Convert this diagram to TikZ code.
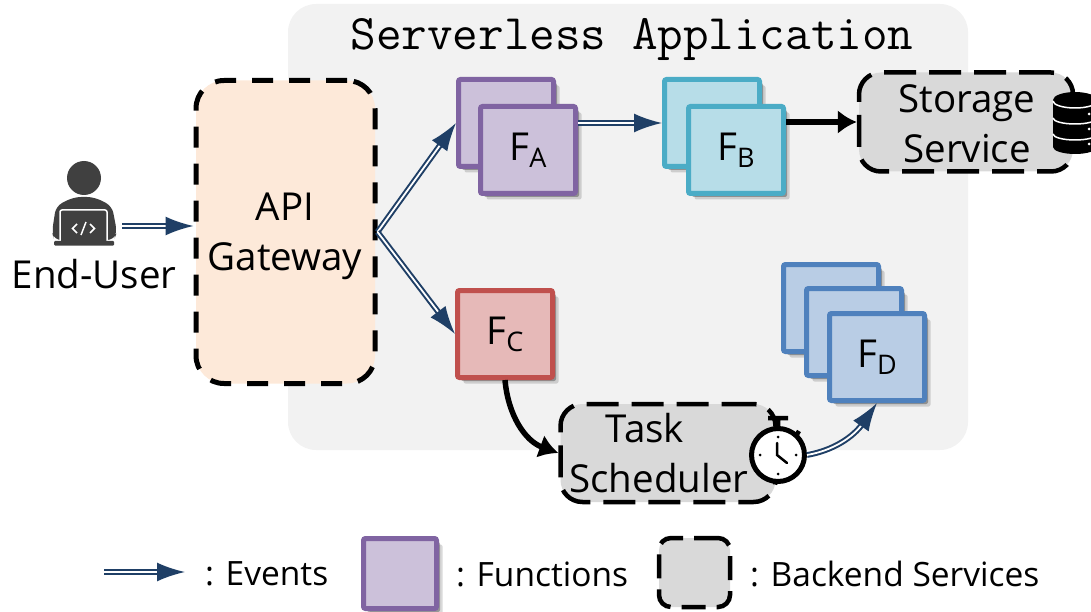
\documentclass[tikz,border=0pt]{standalone}
\usepackage{fontspec}
\setmainfont{Open Sans}
\usetikzlibrary{arrows.meta,shadows,positioning,calc}
\definecolor{evblue}{HTML}{1F3F66}
\definecolor{appgrey}{HTML}{F2F2F2}
\definecolor{svcgrey}{HTML}{D9D9D9}
\definecolor{gwfill}{HTML}{FDE9D9}
\definecolor{iconfill}{HTML}{404040}
\definecolor{purpleline}{HTML}{8064A2}
\definecolor{purplefill}{HTML}{CCC1DA}
\definecolor{tealline}{HTML}{4BACC6}
\definecolor{tealfill}{HTML}{B7DDE8}
\definecolor{redline}{HTML}{C0504D}
\definecolor{redfill}{HTML}{E6B9B8}
\definecolor{blueline}{HTML}{4F81BD}
\definecolor{bluefill}{HTML}{B9CDE5}
\newcommand{\fsize}{\fontsize{38.5}{50}\selectfont}
\newcommand{\keysize}{\fontsize{33.5}{40}\selectfont}
\newcommand{\flabel}[1]{F\lower7pt\hbox{\fontsize{27}{27}\selectfont #1}}
\tikzset{
	event/.style={draw=evblue,line width=2pt,double=white,double distance=1.8pt,-{Latex[length=28pt,width=19pt]}},
	trigger/.style={draw=black,line width=5.5pt,-{Latex[length=19pt,width=24pt]}},
	func/.style={draw=#1,rectangle,rounded corners=2pt,line width=5pt,minimum width=95pt,minimum height=87pt,inner sep=0pt,font=\fsize,
		drop shadow={shadow xshift=6pt,shadow yshift=-6pt,opacity=0.15,fill=black},
		drop shadow={shadow xshift=3.5pt,shadow yshift=-3.5pt,opacity=0.3,fill=black}},
	service/.style={draw=black,fill=svcgrey,line width=4.5pt,rounded corners=22pt,dash pattern=on 32pt off 13pt,inner sep=0pt},
	boxtext/.style={font=\fsize,align=center,inner sep=0pt},
	legend/.style={font=\keysize,anchor=west,inner sep=0pt}
}
\begin{document}
\begin{tikzpicture}[x=1pt,y=-1pt]
	\useasboundingbox (0,0) rectangle (1091,612);
	\clip (0,0) rectangle (1091,612);
	\fill[appgrey,rounded corners=28pt] (288,4) rectangle (968,450);
	\node[font=\ttfamily\fontsize{49.7}{49.7}\selectfont,inner sep=0pt] (title) at (632,39) {Serverless Application};

	\node[minimum width=76pt,minimum height=20pt,inner sep=0pt] (user) at (84,226) {};
	\fill[iconfill] (84,178) circle (17);
	\fill[iconfill,rounded corners=7pt] (52,232) -- (56,206) -- (74,197) -- (94,197) -- (112,206) -- (117,232) -- (114,240) -- (54,240) -- cycle;
	\draw[white,line width=1.5pt,fill=iconfill,rounded corners=2pt] (60,243) -- (60,210) -- (107,210) -- (107,243);
	\fill[iconfill,rounded corners=1pt] (54,241) rectangle (114,245.5);
	\draw[white,line width=1.5pt] (77,224) -- (72.5,228.5) -- (77,233) (90,224) -- (94.5,228.5) -- (90,233) (81,235) -- (86,222);
	\node[font=\fsize,inner sep=0pt] (enduser) at (94,274) {End-User};

	\node[draw=black,fill=gwfill,line width=5pt,rounded corners=28pt,dash pattern=on 21pt off 16pt,minimum width=179pt,minimum height=303pt,inner sep=0pt] (api) at (285.5,232) {};
	\node[boxtext] (apitext) at (285,236) {API\\Gateway};

	\node[func=purpleline,fill=purplefill] (faback) at (506,123) {};
	\node[func=purpleline,fill=purplefill] (fa) at (528,150) {\flabel{A}};
	\node[func=tealline,fill=tealfill] (fbback) at (712,123) {};
	\node[func=tealline,fill=tealfill] (fb) at (736,150) {\flabel{B}};
	\node[func=redline,fill=redfill] (fc) at (505,334) {\flabel{C}};
	\node[func=blueline,fill=bluefill] (fdback) at (831,308) {};
	\node[func=blueline,fill=bluefill] (fdmid) at (854,332) {};
	\node[func=blueline,fill=bluefill] (fd) at (877,357) {\flabel{D}};

	\node[service,minimum width=214pt,minimum height=99pt] (storage) at (966,122) {};
	\node[boxtext] (storagetext) at (967,124) {Storage\\Service};
	\fill[black] (1053,100) rectangle (1097,147);
	\fill[black] (1075,100) ellipse (22 and 8);
	\fill[black] (1075,147) ellipse (22 and 7);
	\draw[white,line width=1.5pt] (1053,101) arc (180:0:22 and 7) (1053,118) arc (180:0:22 and 6) (1053,134) arc (180:0:22 and 6);
	\fill[white] (1089,114) circle (1.5) (1089,129) circle (1.5) (1089,144) circle (1.5);

	\node[service,minimum width=215pt,minimum height=98pt] (sched) at (668,453) {};
	\node[boxtext,anchor=north] (tasktext) at (659,413) {\hspace{-28pt}Task\\Scheduler};
	\node[circle,draw=black,fill=white,line width=5pt,minimum size=53pt,inner sep=0pt] (clock) at (778,455) {};
	\draw[black,line width=4.5pt] (778,427) -- (778,418) (768,418) -- (788,418) (796,436) -- (799,431);
	\draw[black,line width=2.5pt,line cap=round] (777,443) -- (777,455) -- (787,463);
	\fill[black] (778,437) circle (1.5) (778,474) circle (1.5) (760,455) circle (1.5) (796,455) circle (1.5);

	\draw[event] (user) -- (user -| api.west);
	\draw[event] (api.east) -- (faback.west);
	\draw[event] (api.east) -- (fc.west);
	\draw[event] (fa.east |- fbback.west) -- (fbback.west);
	\draw[event] (clock.east) to[out=10,in=-125] (fd.south);
	\draw[trigger] (fb.east |- storage.west) -- (storage.west);
	\draw[trigger] (fc.south) to[out=-85,in=160] (sched.west);

	\coordinate (evfrom) at (104,572);
	\coordinate (evto) at (185,572);
	\draw[event] (evfrom) -- (evto);
	\node[legend] (evlabel) at (205,574) {: Events};
	\node[func=purpleline,fill=purplefill,minimum width=73pt,minimum height=70pt] (fnkey) at (400,573.5) {};
	\node[legend] (fnlabel) at (456,574) {: Functions};
	\node[service,minimum width=71pt,minimum height=69pt,rounded corners=12pt,dash pattern=on 24pt off 11pt] (bkkey) at (694.5,572.5) {};
	\node[legend] (bklabel) at (750,574) {: Backend Services};
\end{tikzpicture}
\end{document}
